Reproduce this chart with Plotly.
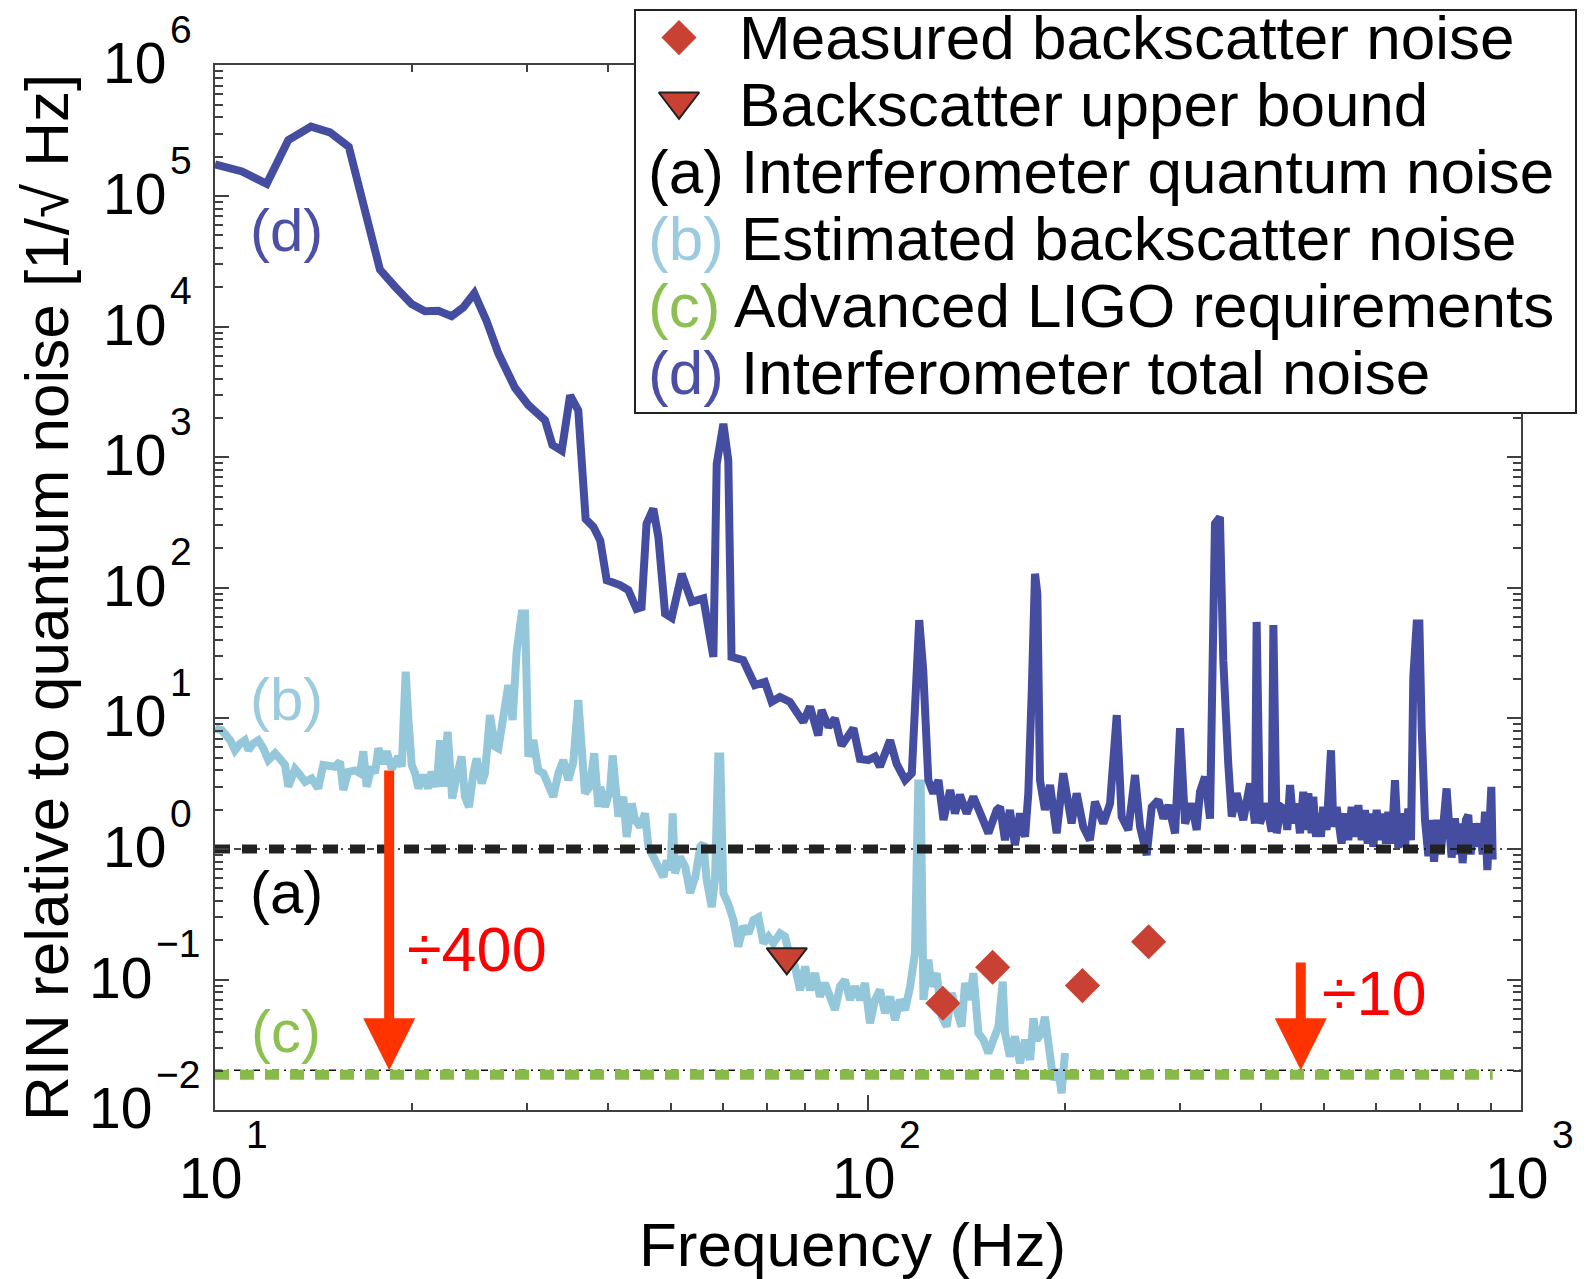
import numpy as np
import plotly.graph_objects as go

W, H = 1589, 1279
FONT = "Liberation Sans, Arial, Helvetica, sans-serif"

# ---------------- data ----------------
# (d) interferometer total noise
total_freq = [10.0, 11.0, 12.0, 12.95, 14.03, 15.0, 16.03, 16.77, 17.38, 17.89,
              18.87, 20.0, 20.97, 21.98, 23.03, 23.99, 24.95, 26.06, 27.16, 28.8,
              30.18, 32.02, 32.86, 33.96, 34.98, 36.0, 36.95, 37.97, 38.9, 39.8,
              41.7, 42.95, 44.2, 45.0, 45.8, 46.9, 47.75, 48.9, 50.05, 51.85,
              53.7, 55.96, 57.97, 58.66, 60.05, 61.1, 61.8, 64.4, 67.1, 69.5,
              71.2, 73.3, 75.9, 79.6, 81.5, 83.9, 84.9, 87.0, 89.0, 91.1,
              95.0, 97.2, 100.1, 102.5, 104.3, 108.1, 110.6, 114.0, 116.7, 119.8,
              121.5, 123.7, 125.9, 128.2, 130.5, 133.6, 135.9, 138.3, 141.6, 145.0,
              149.3, 152.9, 157.4, 159.3, 162.1, 164.9, 167.9, 170.9, 174.0, 176.0,
              178.1, 180.2, 181.7, 183.4, 186.6, 190.0, 194.5, 199.1, 205.0, 208.7,
              213.6, 218.7, 222.6, 229.3, 234.8, 240.4, 244.6, 250.4, 256.4, 261.0,
              267.2, 272.0, 278.4, 283.4, 288.5, 295.3, 300.5, 305.9, 313.1, 318.7,
              322.4, 328.1, 334.0, 339.9, 345.9, 350.0, 356.2, 360.6, 366.9, 375.6,
              384.6, 391.4, 393.7, 398.3, 407.8, 415.1, 417.6, 422.5, 429.0, 435.1,
              438.6, 442.9, 448.1, 453.4, 458.7, 464.1, 468.5, 472.4, 477.9, 480.7,
              485.3, 489.3, 493.9, 497.9, 503.8, 511.7, 516.0, 522.1, 531.2, 537.6,
              543.9, 550.4, 556.9, 563.6, 570.2, 576.9, 582.3, 588.5, 594.0, 601.1,
              608.1, 615.3, 621.1, 626.3, 633.7, 641.2, 648.8, 656.5, 664.3, 672.1,
              678.5, 684.1, 692.2, 698.8, 704.4, 712.8, 721.3, 729.9, 735.9, 744.6,
              753.4, 760.3, 769.2, 776.5, 783.0, 792.2, 799.8, 806.2, 813.9, 823.5,
              830.4, 837.3, 845.3, 853.3, 863.4, 873.7, 880.8, 888.1, 894.5, 900.7,
              905.0]
total_rin = [1.75e5, 1.54e5, 1.24e5, 2.68e5, 3.4e5, 3.07e5, 2.38e5, 9.2e4, 4.68e4, 2.73e4,
             2.02e4, 1.49e4, 1.31e4, 1.32e4, 1.2e4, 1.4e4, 1.8e4, 1.1e4, 6240, 3400,
             2510, 1920, 1240, 1120, 2980, 2280, 336, 293, 230, 114,
             105, 96, 69, 71, 310, 403, 245, 63.5, 59, 128,
             78, 83, 29.6, 891, 1800, 946, 29.6, 27.9, 18, 19,
             13.4, 14.6, 13.4, 9.4, 12.3, 7.4, 11.6, 8.6, 10.0, 6.2,
             8.4, 4.9, 4.8, 5.1, 4.27, 6.8, 4.5, 3.37, 3.8, 56.5,
             23.4, 3.37, 2.67, 3.37, 1.67, 2.83, 1.87, 2.6, 1.87, 2.51,
             1.77, 1.32, 1.99, 2.1, 1.17, 1.99, 1.07, 1.87, 1.24, 2.67,
             15.5, 128, 90, 3.37, 1.99, 3.09, 1.32, 3.8, 1.57, 2.67,
             1.48, 1.17, 2.3, 1.57, 2.23, 10.6, 1.77, 1.4, 3.68, 1.48,
             0.9, 2.1, 2.37, 1.71, 2.17, 1.32, 8.4, 1.57, 2.23, 1.4,
             2.74, 3.57, 1.71, 310, 348, 27.9, 4.5, 1.77, 2.67, 1.67,
             3.18, 1.57, 54.8, 1.57, 2.23, 1.36, 51.8, 1.32, 2.1, 1.99,
             1.4, 3.09, 1.57, 2.23, 1.32, 2.74, 1.4, 2.67, 1.32, 2.51,
             1.24, 1.87, 1.24, 2.1, 1.4, 5.7, 1.48, 2.1, 1.1, 1.87,
             1.17, 2.1, 1.24, 2.17, 1.17, 1.99, 1.1, 1.87, 1.04, 1.99,
             1.17, 1.87, 1.1, 1.93, 1.1, 3.37, 1.02, 1.87, 1.04, 2.04,
             1.17, 20.8, 53.2, 53.2, 8.6, 1.67, 0.88, 1.67, 0.8, 1.67,
             0.91, 1.67, 2.91, 1.48, 0.86, 1.72, 0.91, 1.57, 0.78, 1.67,
             1.82, 0.91, 1.57, 1.04, 1.57, 0.91, 1.93, 0.69, 2.99, 2.99,
             0.83]

# (b) estimated backscatter noise
backscatter_freq = [10.0, 10.24, 10.55, 10.73, 10.92, 11.11, 11.25, 11.44, 11.65, 11.86,
                    12.07, 12.36, 12.58, 12.8, 12.95, 13.26, 13.5, 13.74, 14.06, 14.39,
                    14.65, 14.99, 15.26, 15.54, 15.72, 16.0, 16.38, 16.68, 16.87, 17.07,
                    17.38, 17.58, 17.79, 18.11, 18.33, 18.65, 19.09, 19.32, 19.59, 19.78,
                    20.01, 20.25, 20.49, 20.84, 21.21, 21.46, 21.85, 22.11, 22.37, 22.71,
                    23.08, 23.44, 23.86, 24.14, 24.49, 24.87, 25.16, 25.61, 25.91, 26.37,
                    26.84, 27.16, 27.64, 28.13, 28.56, 28.97, 29.49, 29.84, 30.19, 30.73,
                    31.27, 31.83, 32.39, 32.97, 33.56, 34.15, 34.76, 35.38, 36.0, 36.43,
                    36.86, 37.5, 38.08, 38.64, 38.9, 39.56, 40.27, 40.64, 41.0, 41.47,
                    42.2, 42.7, 43.47, 43.98, 44.77, 45.56, 46.1, 46.93, 47.75, 48.6,
                    49.18, 49.86, 50.22, 50.63, 51.53, 52.5, 53.4, 54.38, 55.35, 55.97,
                    56.62, 57.63, 58.3, 58.98, 59.4, 60.05, 61.1, 62.2, 63.3, 64.4,
                    65.6, 66.75, 67.95, 69.15, 70.4, 71.6, 73.35, 74.65, 75.95, 77.3,
                    78.7, 80.1, 81.5, 82.95, 84.4, 85.9, 87.45, 89.0, 90.6, 92.2,
                    93.85, 95.5, 97.25, 98.95, 100.7, 102.5, 104.3, 106.2, 108.1, 110.0,
                    111.9, 114.0, 116.0, 118.0, 119.4, 120.4, 121.6, 123.7, 125.2, 127.4,
                    129.7, 132.0, 134.3, 136.8, 139.1, 140.8, 143.3, 145.0, 147.6, 150.2,
                    152.9, 155.6, 158.4, 160.8, 162.1, 164.9, 167.9, 170.9, 174.0, 177.1,
                    179.2, 181.3, 184.5, 186.6, 188.8, 192.2, 195.6, 197.9, 200.3]
backscatter_rin = [8.4, 8.1, 6.8, 5.7, 6.4, 6.8, 5.7, 6.4, 6.8, 5.9,
                   4.8, 5.4, 4.9, 4.4, 3.0, 4.1, 3.68, 3.27, 3.47, 2.91,
                   4.4, 4.4, 4.27, 4.66, 2.83, 3.9, 4.0, 3.8, 5.6, 3.0,
                   4.27, 3.8, 5.9, 4.5, 5.6, 4.1, 5.1, 4.27, 22.8, 9.7,
                   4.4, 3.8, 2.91, 3.68, 2.91, 3.9, 3.0, 6.8, 3.0, 7.9,
                   2.44, 3.57, 5.1, 2.51, 2.1, 3.8, 4.93, 3.18, 3.8, 10.6,
                   6.1, 5.9, 10.9, 18.0, 9.7, 32.4, 63.5, 63.5, 5.1, 6.8,
                   4.0, 3.8, 3.09, 2.51, 3.8, 4.8, 3.37, 4.66, 13.8, 4.66,
                   2.67, 3.0, 5.4, 2.1, 3.0, 2.1, 2.83, 5.2, 2.83, 1.77,
                   2.51, 1.24, 2.23, 1.67, 1.48, 1.87, 1.04, 0.87, 0.73, 0.61,
                   0.82, 0.69, 1.87, 0.65, 0.87, 0.73, 0.46, 0.61, 1.04, 1.10,
                   0.58, 0.36, 0.58, 5.1, 5.1, 0.46, 0.38, 0.286, 0.179, 0.255,
                   0.226, 0.286, 0.30, 0.19, 0.213, 0.19, 0.226, 0.213, 0.15, 0.126,
                   0.083, 0.126, 0.083, 0.112, 0.074, 0.094, 0.074, 0.0587, 0.0885, 0.0995,
                   0.07, 0.0885, 0.07, 0.094, 0.0463, 0.07, 0.0834, 0.0553, 0.074, 0.049,
                   0.07, 0.0587, 0.0885, 0.159, 3.18, 3.18, 0.07, 0.142, 0.0885, 0.112,
                   0.052, 0.0437, 0.0787, 0.0587, 0.0437, 0.094, 0.07, 0.112, 0.039, 0.0346,
                   0.0274, 0.0346, 0.0437, 0.0966, 0.039, 0.0258, 0.0367, 0.0229, 0.0346, 0.0243,
                   0.0506, 0.0346, 0.039, 0.052, 0.0308, 0.0171, 0.0204, 0.0135, 0.0274]

assert len(total_freq) == len(total_rin)
assert len(backscatter_freq) == len(backscatter_rin)

# (a) quantum noise and (c) requirement levels
level_freq = [10.0, 905.0]
quantum_level = 1.0
requirement_level = 0.01866
guide_freq = [10.0, 1000.0]
guide_levels = [1.0, 0.0202]

# measured points
measured_freq = [130.2, 155.2, 213.0, 269.0]
measured_rin = [0.0659, 0.1244, 0.090, 0.195]
bound_freq = [75.1]
bound_rin = [0.149]

# arrows
arrow_freq = [18.48, 460.0]
arrow_start = [4.09, 0.139]
arrow_end = 0.0202
arrow_labels = ["÷400", "÷10"]

x_tick_exp = [1, 2, 3]
y_tick_exp = [-2, -1, 0, 1, 2, 3, 4, 5, 6]

# ---------------- styles ----------------
C_TOTAL = "#454da0"
C_BACK = "#95c7da"
C_REQ = "#87ba4b"
C_QN = "#222222"
C_MARK = "#c94132"
C_ARROW = "#ff3300"
C_AXIS = "#404040"
C_LBL_D = "#4b50a6"
C_LBL_B = "#9ccbe0"
C_LBL_C = "#8cc152"

PLOT_L, PLOT_R = 215, 1521
PLOT_T, PLOT_B = 65.4, 1110.2


def fx(px):
    return px / W


def fy(py):
    return 1 - py / H


LEG_ROW0, LEG_ROW_STEP = -29.4, 67.0   # pixel y of legend row r = ROW0 + STEP*r
LEG_KEY_X = 679
LEG_TEXT_X_MARK = 737
LEG_TEXT_X_LINE = 646

fig = go.Figure()

fig.add_trace(go.Scatter(x=backscatter_freq, y=backscatter_rin, mode="lines",
                         line=dict(color=C_BACK, width=8)))
fig.add_trace(go.Scatter(x=total_freq, y=total_rin, mode="lines",
                         line=dict(color=C_TOTAL, width=8)))
for lvl in guide_levels:
    fig.add_trace(go.Scatter(x=guide_freq, y=[lvl, lvl], mode="lines",
                             line=dict(color="#111111", width=1.6, dash="7px,5px,2px,5px")))
fig.add_trace(go.Scatter(x=level_freq, y=[quantum_level] * 2, mode="lines",
                         line=dict(color=C_QN, width=9, dash="15px,12px")))
fig.add_trace(go.Scatter(x=level_freq, y=[requirement_level] * 2, mode="lines",
                         line=dict(color=C_REQ, width=10, dash="14px,11px")))
fig.add_trace(go.Scatter(x=bound_freq, y=bound_rin, mode="markers",
                         marker=dict(symbol="triangle-down", size=35, color=C_MARK,
                                     line=dict(color="#222222", width=2))))
fig.add_trace(go.Scatter(x=measured_freq, y=measured_rin, mode="markers",
                         marker=dict(symbol="diamond", size=27, color=C_MARK,
                                     line=dict(width=0))))

# legend keys on an overlay axis (rows)
fig.add_trace(go.Scatter(x=[fx(LEG_KEY_X)], y=[1], xaxis="x3", yaxis="y3", mode="markers",
                         marker=dict(symbol="diamond", size=27, color=C_MARK, line=dict(width=0))))
fig.add_trace(go.Scatter(x=[fx(LEG_KEY_X)], y=[1.95], xaxis="x3", yaxis="y3", mode="markers",
                         marker=dict(symbol="triangle-down", size=35, color=C_MARK,
                                     line=dict(color="#222222", width=2))))

minor_x = [m * 10.0 ** e for e in (1, 2) for m in range(2, 10)]
minor_y = [m * 10.0 ** e for e in range(-2, 6) for m in range(2, 10)]

axis_common = dict(type="log", showgrid=False, zeroline=False, showline=True,
                   linecolor=C_AXIS, linewidth=2, mirror="ticks", ticks="inside",
                   tickcolor=C_AXIS, tickwidth=2, showticklabels=False, tickmode="array")

annotations = []
tick_font = dict(family=FONT, size=57, color="black")
sup_font = dict(family=FONT, size=39, color="black")
for e in x_tick_exp:
    annotations.append(dict(x=e, xref="x", y=fy(1178), yref="paper", text="10",
                            showarrow=False, xanchor="center", yanchor="middle",
                            xshift=-5, font=tick_font, borderpad=0))
    annotations.append(dict(x=e, xref="x", y=fy(1134), yref="paper",
                            text=str(e).replace("-", "\u2212"),
                            showarrow=False, xanchor="left", yanchor="middle",
                            xshift=30, font=sup_font, borderpad=0))
for e in y_tick_exp:
    xr = 167 if e >= 0 else 153
    annotations.append(dict(x=fx(xr), xref="paper", y=e, yref="y", text="10",
                            showarrow=False, xanchor="right", yanchor="middle",
                            yshift=2, font=tick_font, borderpad=0))
    annotations.append(dict(x=fx(xr + 2), xref="paper", y=e, yref="y",
                            text=str(e).replace("-", "\u2212"),
                            showarrow=False, xanchor="left", yanchor="middle",
                            yshift=36, font=sup_font, borderpad=0))

title_font = dict(family=FONT, size=62, color="black")
annotations.append(dict(x=fx(46), y=fy(598), xref="paper", yref="paper", textangle=-90,
                        text="RIN relative to quantum noise [1/\u221a Hz]", showarrow=False,
                        xanchor="center", yanchor="middle", font=title_font))
annotations.append(dict(x=fx(852), y=fy(1244), xref="paper", yref="paper",
                        text="Frequency (Hz)", showarrow=False, borderpad=0,
                        xanchor="center", yanchor="middle", font=title_font))

for txt, col, py in [("(d)", C_LBL_D, 231), ("(b)", C_LBL_B, 699),
                     ("(a)", "black", 892), ("(c)", C_LBL_C, 1031)]:
    annotations.append(dict(x=fx(286), y=fy(py), xref="paper", yref="paper", text=txt,
                            showarrow=False, xanchor="center", yanchor="middle",
                            font=dict(family=FONT, size=60, color=col)))

for f, s in zip(arrow_freq, arrow_start):
    annotations.append(dict(x=np.log10(f), y=np.log10(arrow_end), xref="x", yref="y",
                            ax=np.log10(f), ay=np.log10(s), axref="x", ayref="y",
                            text="", showarrow=True, arrowhead=2, arrowsize=1.04,
                            arrowwidth=10, arrowcolor=C_ARROW, standoff=0, startstandoff=0,
                            font=dict(size=1)))
for txt, (px, py) in zip(arrow_labels, [(477, 949), (1374, 993)]):
    annotations.append(dict(x=fx(px), y=fy(py), xref="paper", yref="paper", text=txt,
                            showarrow=False, xanchor="center", yanchor="middle",
                            font=dict(family=FONT, size=63, color="#ff0000")))

legend_font = dict(family=FONT, size=62, color="black")
legend_rows = [
    (LEG_TEXT_X_MARK, "Measured backscatter noise"),
    (LEG_TEXT_X_MARK, "Backscatter upper bound"),
    (LEG_TEXT_X_LINE, "(a) Interferometer quantum noise"),
    (LEG_TEXT_X_LINE, f"<span style='color:{C_LBL_B}'>(b)</span> Estimated backscatter noise"),
    (LEG_TEXT_X_LINE, f"<span style='color:{C_LBL_C}'>(c)</span> Advanced LIGO requirements"),
    (LEG_TEXT_X_LINE, f"<span style='color:{C_LBL_D}'>(d)</span> Interferometer total noise"),
]
for r, (px, txt) in enumerate(legend_rows, start=1):
    annotations.append(dict(x=fx(px), y=r, xref="x3", yref="y3", text=txt,
                            showarrow=False, xanchor="left", yanchor="middle", font=legend_font))

shapes = [
    dict(type="rect", xref="paper", yref="paper", x0=fx(635), x1=fx(1577), y0=fy(90), y1=fy(58),
         fillcolor="white", line=dict(width=0), layer="above"),
    dict(type="rect", xref="paper", yref="paper", x0=fx(1495), x1=fx(1577), y0=fy(413), y1=fy(11),
         fillcolor="white", line=dict(width=0), layer="above"),
    dict(type="rect", xref="paper", yref="paper", x0=fx(635), x1=fx(1576), y0=fy(413), y1=fy(10),
         fillcolor="rgba(0,0,0,0)", line=dict(color="#222222", width=2), layer="above"),
]

fig.update_layout(
    width=W, height=H, autosize=False, margin=dict(l=0, r=0, t=0, b=0, pad=0),
    paper_bgcolor="white", plot_bgcolor="rgba(0,0,0,0)", showlegend=False,
    font=dict(family=FONT),
    xaxis=dict(**axis_common, domain=[fx(PLOT_L), fx(PLOT_R)], range=[1, 3],
               tickvals=[10.0 ** e for e in x_tick_exp], ticklen=15, anchor="y",
               minor=dict(tickmode="array", tickvals=minor_x, ticks="inside", ticklen=7,
                          tickwidth=1.5, tickcolor=C_AXIS, showgrid=False)),
    yaxis=dict(**axis_common, domain=[fy(PLOT_B), fy(PLOT_T)], range=[-2, 6],
               tickvals=[10.0 ** e for e in y_tick_exp], ticklen=14, anchor="x",
               minor=dict(tickmode="array", tickvals=minor_y, ticks="inside", ticklen=8,
                          tickwidth=1.5, tickcolor=C_AXIS, showgrid=False)),
    xaxis3=dict(domain=[0, 1], range=[0, 1], visible=False, anchor="y3"),
    yaxis3=dict(domain=[0, 1],
                range=[(H - LEG_ROW0) / LEG_ROW_STEP, (0 - LEG_ROW0) / LEG_ROW_STEP],
                visible=False, anchor="x3"),
    annotations=annotations,
    shapes=shapes,
)

fig.write_html("out.html")
